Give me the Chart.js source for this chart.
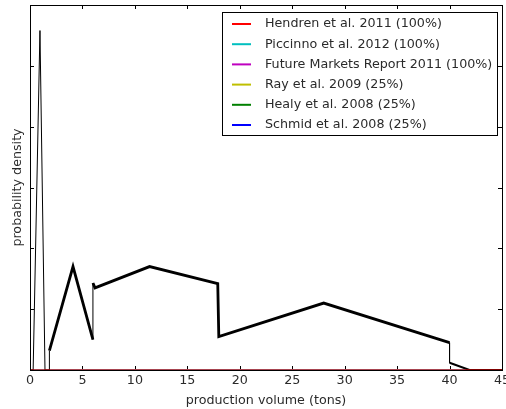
<!DOCTYPE html>
<html>
<head>
<meta charset="utf-8">
<script src="https://cdn.jsdelivr.net/npm/chart.js@4.4.1/dist/chart.umd.min.js"></script>
<style>
  html, body { margin: 0; padding: 0; background: #fff; overflow: hidden; }
  #wrap { width: 506px; height: 409px; }
</style>
</head>
<body>
<div id="wrap"><canvas id="c"></canvas></div>
<script>
const volX = [0, 0.3, 0.95, 1.43, 1.85, 1.85, 4.1, 6.0, 6.0, 6.2, 11.4, 17.9, 18.0, 28.0, 40.0, 40.0, 41.9, 45];
const densY = [0, 0, 5.58, 0, 0, 0.32, 1.7, 0.5, 1.43, 1.35, 1.7, 1.42, 0.55, 1.1, 0.45, 0.12, 0, 0];

// séries des études (toutes au niveau zéro)
const studies = ["Hendren et al. 2011 (100%)", "Piccinno et al. 2012 (100%)", "Future Markets Report 2011 (100%)",
  "Ray et al. 2009 (25%)", "Healy et al. 2008 (25%)", "Schmid et al. 2008 (25%)"];
const studyColors = ["#ff0000", "#00bfbf", "#bf00bf", "#bfbf00", "#008000", "#0000ff"];
const studyX = [0, 45];
const studyY = [0, 0];

const xTicks = [0, 5, 10, 15, 20, 25, 30, 35, 40, 45];
const yTicks = [0, 1, 2, 3, 4, 5, 6];

const FONT = "'DejaVu Sans', sans-serif";
const FS = 12.7;
const TXT = "#2a2a2a";

// cadre + graduations vers l'intérieur (style matplotlib)
const framePlugin = {
  id: "frame",
  beforeDatasetsDraw(chart) {
    const { ctx, chartArea: a, scales } = chart;
    ctx.save();
    ctx.strokeStyle = "#000";
    ctx.lineWidth = 1;
    ctx.beginPath();
    xTicks.forEach(v => {
      const px = Math.round(scales.x.getPixelForValue(v)) + 0.5;
      ctx.moveTo(px, a.bottom); ctx.lineTo(px, a.bottom - 4);
      ctx.moveTo(px, a.top); ctx.lineTo(px, a.top + 4);
    });
    yTicks.forEach(v => {
      const py = Math.round(scales.y.getPixelForValue(v)) + 0.5;
      ctx.moveTo(a.left, py); ctx.lineTo(a.left + 4, py);
      ctx.moveTo(a.right, py); ctx.lineTo(a.right - 4, py);
    });
    ctx.stroke();
    ctx.restore();
  },
  afterDraw(chart) {
    const { ctx, chartArea: a } = chart;
    ctx.save();
    ctx.strokeStyle = "#000";
    ctx.lineWidth = 1;
    ctx.strokeRect(Math.round(a.left) + 0.5, Math.round(a.top) + 0.5,
      Math.round(a.right - a.left), Math.round(a.bottom - a.top));

    // légende encadrée en haut à droite
    const items = chart.data.datasets.filter(d => d.label);
    ctx.font = FS + "px " + FONT;
    const tw = Math.max(...items.map(d => ctx.measureText(d.label).width));
    const rowH = 20.2;
    const w = Math.round(43 + tw + 5);
    const h = Math.round(22 + rowH * (items.length - 1));
    const left = Math.round(a.right - 5 - w);
    const top = Math.round(a.top + 7);
    ctx.fillStyle = "#fff";
    ctx.fillRect(left, top, w, h);
    ctx.strokeStyle = "#000";
    ctx.strokeRect(left + 0.5, top + 0.5, w, h);
    ctx.textBaseline = "middle";
    items.forEach((d, i) => {
      const y = top + 12 + i * rowH;
      ctx.strokeStyle = d.borderColor;
      ctx.lineWidth = 2;
      ctx.beginPath();
      ctx.moveTo(left + 10, y); ctx.lineTo(left + 29, y);
      ctx.stroke();
      ctx.fillStyle = TXT;
      ctx.fillText(d.label, left + 43, y);
    });
    ctx.restore();
  }
};

const datasets = [];
// 0) mesure noire
datasets.push({
  data: volX.map((x, i) => ({ x, y: densY[i] })),
  borderColor: "#000",
  borderWidth: 3,
  pointRadius: 0,
  tension: 0,
  segment: {
    // traits fins pour le pic et les sauts verticaux, épais pour les parties bruitées
    borderWidth: ctx => {
      const x0 = ctx.p0.parsed.x, x1 = ctx.p1.parsed.x;
      if (x0 === x1 || x1 <= 1.9) return 1;
      if (x0 >= 40) return 2;
      return 2.8;
    }
  }
});
// 1..6) séries des études, la rouge dessinée en dernier
studies.forEach((label, i) => {
  datasets.push({
    label,
    data: studyX.map((x, j) => ({ x, y: studyY[j] })),
    borderColor: studyColors[i],
    borderWidth: 1,
    pointRadius: 0,
    order: i === 0 ? -1 : 0,
  });
});

new Chart(document.getElementById("c"), {
  type: "line",
  data: { datasets },
  options: {
    responsive: true,
    maintainAspectRatio: false,
    animation: false,
    events: [],
    layout: { padding: { top: 5, right: 4, left: 0, bottom: 0 } },
    plugins: { legend: { display: false }, tooltip: { enabled: false } },
    scales: {
      x: {
        type: "linear",
        min: 0, max: 45,
        afterBuildTicks: s => { s.ticks = xTicks.map(v => ({ value: v })); },
        afterFit: s => { s.paddingLeft = 0; s.paddingRight = 0; s.height = 39; },
        grid: { display: false, drawTicks: false },
        border: { display: false },
        ticks: { color: TXT, padding: 3, maxRotation: 0, autoSkip: false, font: { family: FONT, size: FS } },
        title: { display: true, text: "production volume (tons)", color: TXT, padding: { top: 0, bottom: 1 }, font: { family: FONT, size: FS } },
      },
      y: {
        type: "linear",
        min: 0, max: 6,
        afterFit: s => { s.width = 30; },
        grid: { display: false, drawTicks: false },
        border: { display: false },
        ticks: { display: false },
        title: { display: true, text: "probability density", color: TXT, padding: { top: 10, bottom: 0 }, font: { family: FONT, size: FS } },
      },
    },
  },
  plugins: [framePlugin],
});
</script>
</body>
</html>
